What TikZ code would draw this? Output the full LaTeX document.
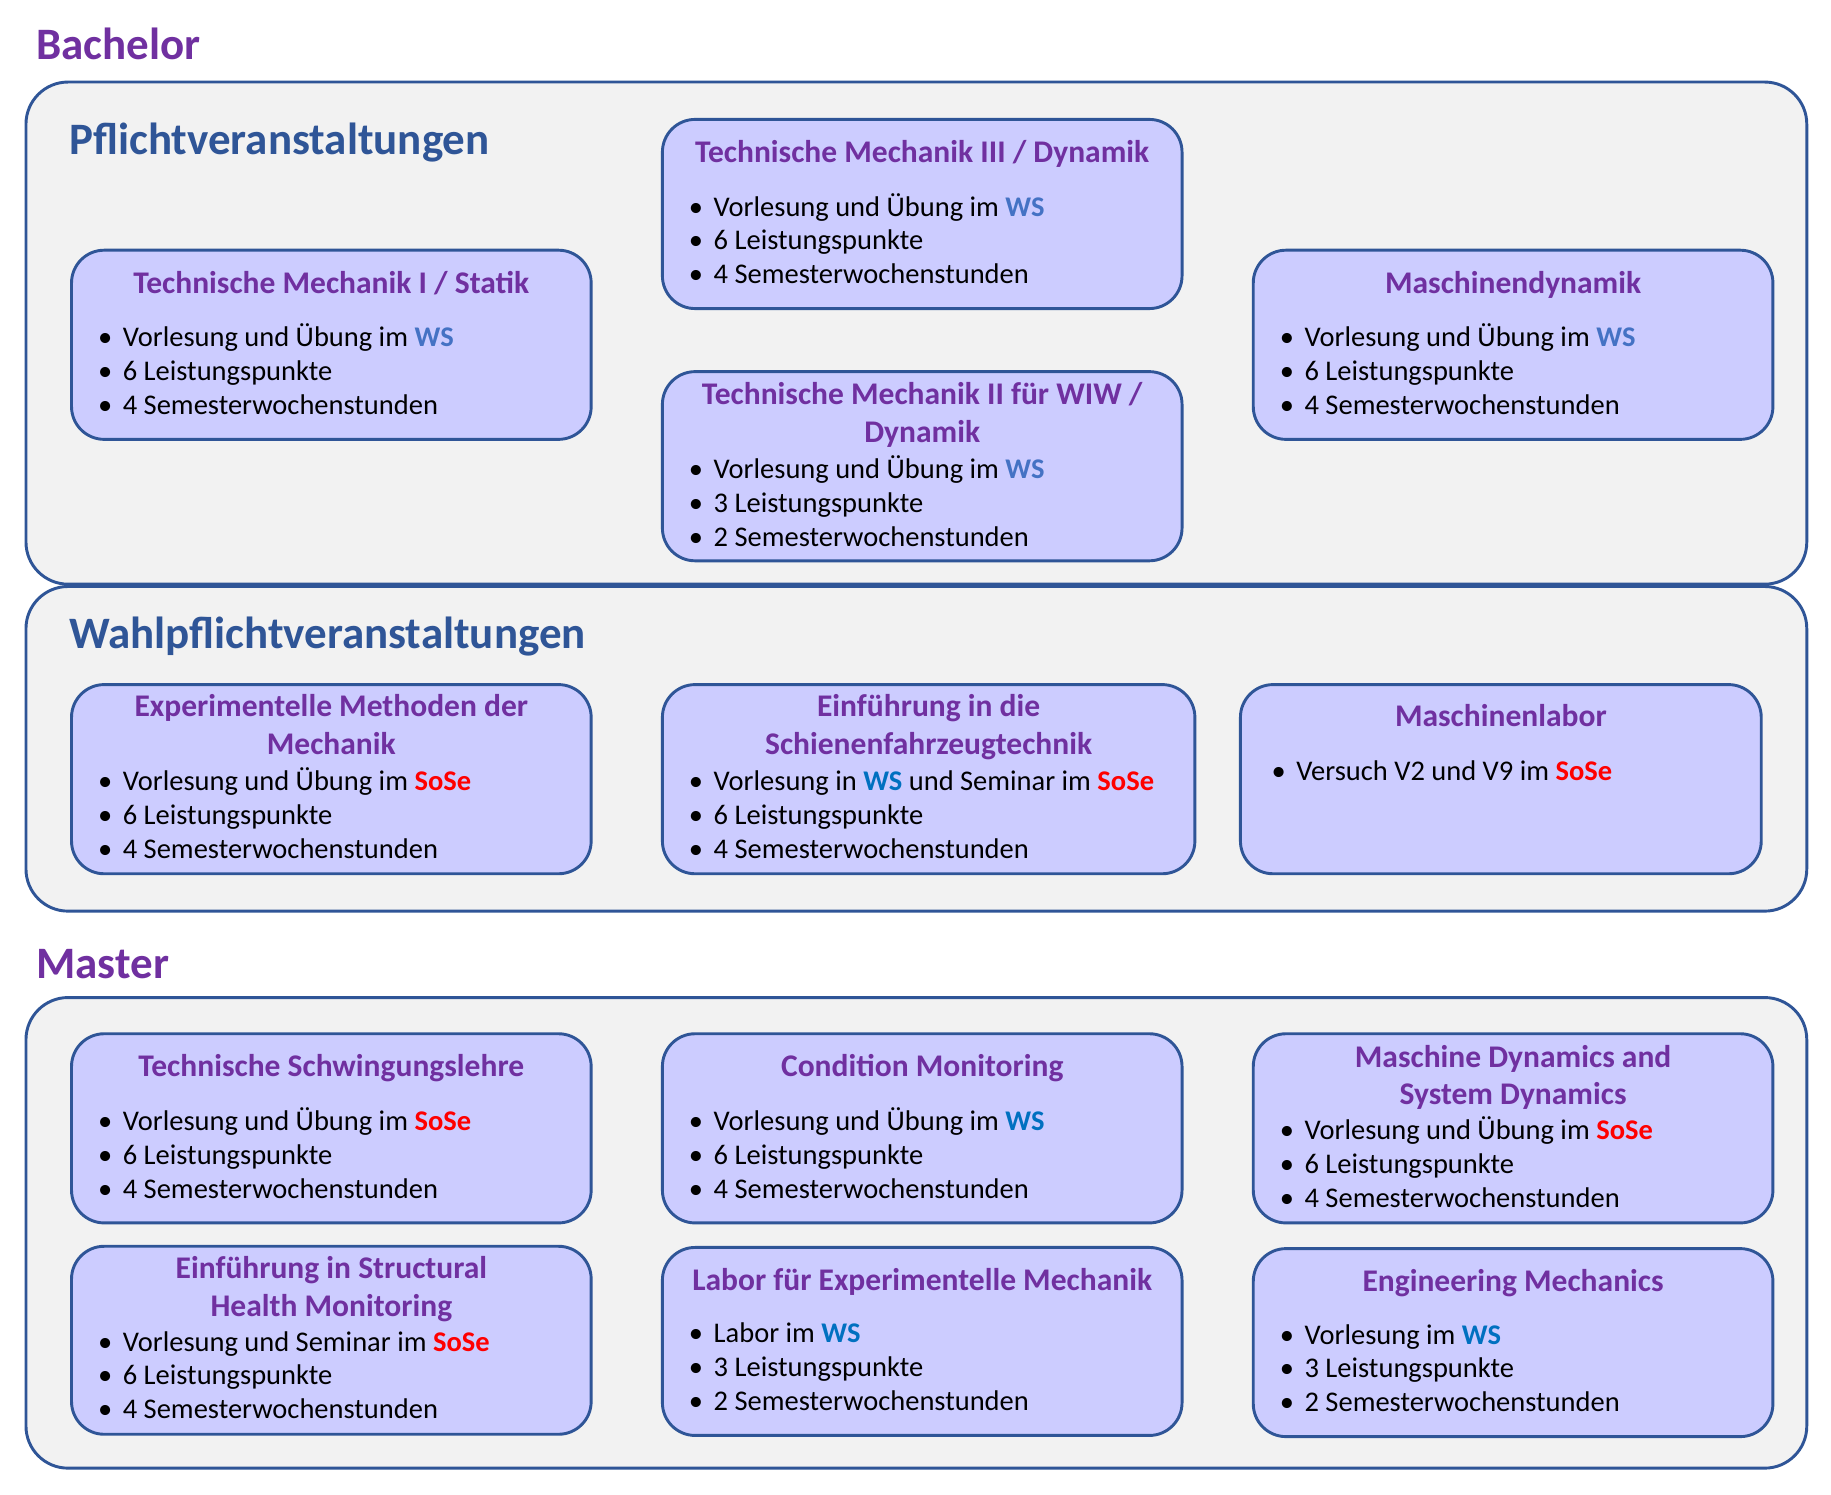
\documentclass[tikz,border=0pt]{standalone}
\usepackage{fontspec}
\setmainfont{Carlito}
\usetikzlibrary{calc}
\definecolor{bordc}{HTML}{2F5597}
\definecolor{outerf}{HTML}{F2F2F2}
\definecolor{innerf}{HTML}{CCCCFF}
\definecolor{titc}{HTML}{7030A0}
\definecolor{wsA}{HTML}{4472C4}
\definecolor{wsB}{HTML}{0070C0}
\definecolor{sose}{HTML}{FF0000}
\definecolor{headc}{HTML}{2F5597}
\newcommand\WSa{\textcolor{wsA}{\bfseries WS}}
\newcommand\WSb{\textcolor{wsB}{\bfseries WS}}
\newcommand\SoSe{\textcolor{sose}{\bfseries SoSe}}
\newcommand\ctitle[4]{\node[ttlst] (#1) at ($(#2.north)+(0,#3)$) {#4};}
\newcommand\citem[4]{\node[bulst] (#1-b) at ($(#2.north west)+(30,#3)$) {•};
  \node[itmst] (#1) at ($(#2.north west)+(45,#3)$) {#4};}
\begin{document}
\begin{tikzpicture}[x=1pt,y=-1pt,
  outerbox/.style={draw=bordc, fill=outerf, line width=2.5pt, rounded corners=36pt, anchor=north west, inner sep=0pt},
  innerbox/.style={draw=bordc, fill=innerf, line width=2.5pt, rounded corners=28pt, anchor=north west, inner sep=0pt},
  ttlst/.style={font=\bfseries\fontsize{27}{32}\selectfont, text=titc, anchor=base, inner sep=0pt},
  itmst/.style={font=\fontsize{24.4}{29}\selectfont, anchor=base west, inner sep=0pt},
  bulst/.style={font=\fontsize{24.4}{29}\selectfont, anchor=base, inner sep=0pt},
  headst/.style={font=\bfseries\fontsize{38.5}{46}\selectfont, anchor=base west, inner sep=0pt},
]
\useasboundingbox (0,0) rectangle (1568,1280);
\fill[white] (0,0) rectangle (1568,1280);

% ---------------- Bachelor ----------------
\node[headst, text=titc] (bachelor) at (31,51) {Bachelor};
\node[outerbox, minimum width=1525pt, minimum height=430pt] (pflicht) at (21,69) {};
\node[outerbox, minimum width=1525pt, minimum height=278pt] (wahl) at (21,501) {};
\node[headst, text=headc] (pflichtT) at (59,132) {Pflichtveranstaltungen};
\node[headst, text=headc] (wahlT) at (59,555) {Wahlpflichtveranstaltungen};

% TM I
\node[innerbox, minimum width=445pt, minimum height=162pt] (tm1) at (60,213) {};
\ctitle{tm1t}{tm1}{38}{Technische Mechanik I / Statik}
\citem{tm1a}{tm1}{84}{Vorlesung und Übung im \WSa}
\citem{tm1b}{tm1}{113}{6 Leistungspunkte}
\citem{tm1c}{tm1}{142}{4 Semesterwochenstunden}

% TM III
\node[innerbox, minimum width=445pt, minimum height=162pt] (tm3) at (566,101) {};
\ctitle{tm3t}{tm3}{38}{Technische Mechanik III / Dynamik}
\citem{tm3a}{tm3}{84}{Vorlesung und Übung im \WSa}
\citem{tm3b}{tm3}{113}{6 Leistungspunkte}
\citem{tm3c}{tm3}{142}{4 Semesterwochenstunden}

% TM II WIW
\node[innerbox, minimum width=445pt, minimum height=162pt] (tm2) at (566,317) {};
\ctitle{tm2t}{tm2}{29}{Technische Mechanik II für WIW /}
\ctitle{tm2u}{tm2}{62}{Dynamik}
\citem{tm2a}{tm2}{93}{Vorlesung und Übung im \WSa}
\citem{tm2b}{tm2}{122}{3 Leistungspunkte}
\citem{tm2c}{tm2}{151}{2 Semesterwochenstunden}

% Maschinendynamik
\node[innerbox, minimum width=445pt, minimum height=162pt] (md) at (1072,213) {};
\ctitle{mdt}{md}{38}{Maschinendynamik}
\citem{mda}{md}{84}{Vorlesung und Übung im \WSa}
\citem{mdb}{md}{113}{6 Leistungspunkte}
\citem{mdc}{md}{142}{4 Semesterwochenstunden}

% Experimentelle Methoden
\node[innerbox, minimum width=445pt, minimum height=162pt] (exp) at (60,585) {};
\ctitle{expt}{exp}{29}{Experimentelle Methoden der}
\ctitle{expu}{exp}{61}{Mechanik}
\citem{expa}{exp}{92}{Vorlesung und Übung im \SoSe}
\citem{expb}{exp}{121}{6 Leistungspunkte}
\citem{expc}{exp}{150}{4 Semesterwochenstunden}

% Schienenfahrzeugtechnik
\node[innerbox, minimum width=456pt, minimum height=162pt] (sft) at (566,585) {};
\ctitle{sftt}{sft}{29}{Einführung in die}
\ctitle{sftu}{sft}{61}{Schienenfahrzeugtechnik}
\citem{sfta}{sft}{92}{Vorlesung in \WSb{} und Seminar im \SoSe}
\citem{sftb}{sft}{121}{6 Leistungspunkte}
\citem{sftc}{sft}{150}{4 Semesterwochenstunden}

% Maschinenlabor
\node[innerbox, minimum width=446pt, minimum height=162pt] (ml) at (1061,585) {};
\ctitle{mlt}{ml}{37}{Maschinenlabor}
\node[bulst] (mla-b) at ($(ml.north west)+(34,83)$) {•};
\node[itmst] (mla) at ($(ml.north west)+(49,83)$) {Versuch V2 und V9 im \SoSe};

% ---------------- Master ----------------
\node[headst, text=titc] (master) at (31,838) {Master};
\node[outerbox, minimum width=1525pt, minimum height=403pt] (mbox) at (21,853) {};

% Schwingungslehre
\node[innerbox, minimum width=445pt, minimum height=162pt] (tsl) at (60,884) {};
\ctitle{tslt}{tsl}{38}{Technische Schwingungslehre}
\citem{tsla}{tsl}{84}{Vorlesung und Übung im \SoSe}
\citem{tslb}{tsl}{113}{6 Leistungspunkte}
\citem{tslc}{tsl}{142}{4 Semesterwochenstunden}

% Condition Monitoring
\node[innerbox, minimum width=445pt, minimum height=162pt] (cm) at (566,884) {};
\ctitle{cmt}{cm}{38}{Condition Monitoring}
\citem{cma}{cm}{84}{Vorlesung und Übung im \WSb}
\citem{cmb}{cm}{113}{6 Leistungspunkte}
\citem{cmc}{cm}{142}{4 Semesterwochenstunden}

% Maschine Dynamics
\node[innerbox, minimum width=445pt, minimum height=162pt] (msd) at (1072,884) {};
\ctitle{msdt}{msd}{30}{Maschine Dynamics and}
\ctitle{msdu}{msd}{62}{System Dynamics}
\citem{msda}{msd}{92}{Vorlesung und Übung im \SoSe}
\citem{msdb}{msd}{121}{6 Leistungspunkte}
\citem{msdc}{msd}{150}{4 Semesterwochenstunden}

% SHM
\node[innerbox, minimum width=445pt, minimum height=161pt] (shm) at (60,1066) {};
\ctitle{shmt}{shm}{29}{Einführung in Structural}
\ctitle{shmu}{shm}{61}{Health Monitoring}
\citem{shma}{shm}{91}{Vorlesung und Seminar im \SoSe}
\citem{shmb}{shm}{120}{6 Leistungspunkte}
\citem{shmc}{shm}{149}{4 Semesterwochenstunden}

% Labor
\node[innerbox, minimum width=445pt, minimum height=161pt] (lab) at (566,1067) {};
\ctitle{labt}{lab}{38}{Labor für Experimentelle Mechanik}
\citem{laba}{lab}{83}{Labor im \WSb}
\citem{labb}{lab}{112}{3 Leistungspunkte}
\citem{labc}{lab}{141}{2 Semesterwochenstunden}

% Engineering Mechanics
\node[innerbox, minimum width=445pt, minimum height=161pt] (em) at (1072,1068) {};
\ctitle{emt}{em}{38}{Engineering Mechanics}
\citem{ema}{em}{83}{Vorlesung im \WSb}
\citem{emb}{em}{112}{3 Leistungspunkte}
\citem{emc}{em}{141}{2 Semesterwochenstunden}
\end{tikzpicture}
\end{document}
